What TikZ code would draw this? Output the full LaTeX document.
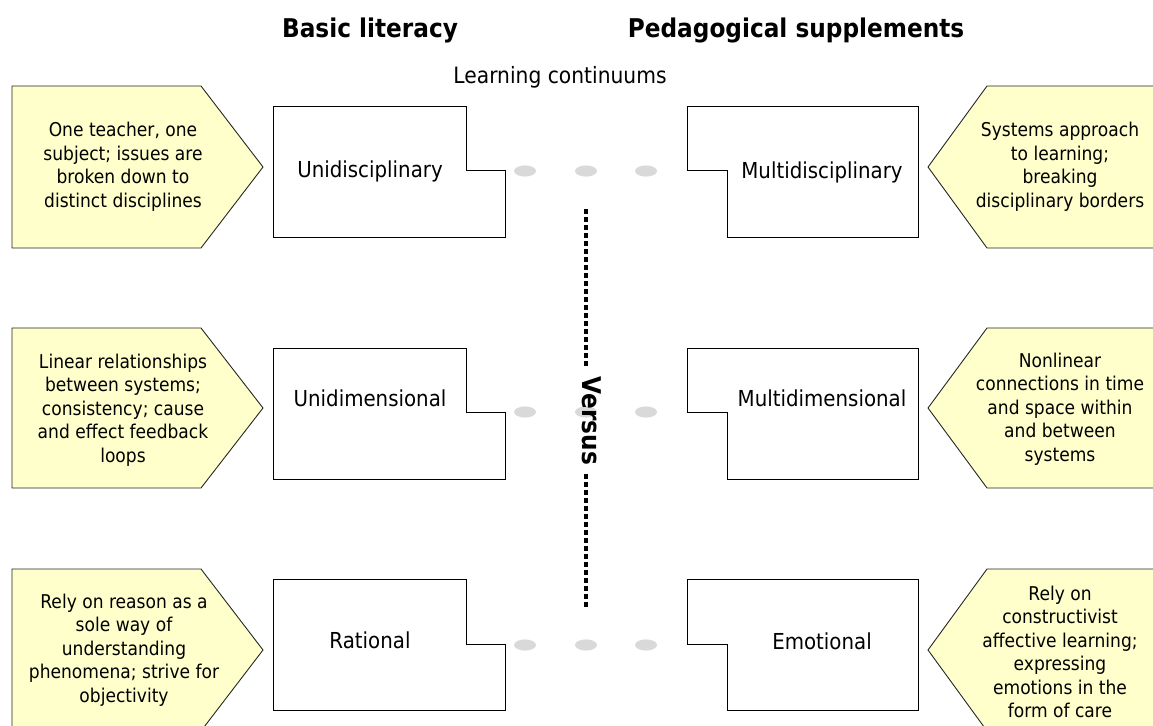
\documentclass[tikz,border=0pt]{standalone}
\usepackage{fontspec}
\setmainfont{DejaVu Sans}[FakeStretch=0.9]
\definecolor{callfill}{RGB}{255,255,204}
\definecolor{dotgray}{RGB}{217,217,217}
\begin{document}
\begin{tikzpicture}[x=1pt,y=-1pt,
  callout/.style={draw=black!85, fill=callfill, line width=0.9pt, line join=miter},
  boxshape/.style={draw=black, fill=white, line width=1pt},
  gdot/.style={fill=dotgray, draw=none},
  calltext/.style={font=\fontsize{19}{23.5}\selectfont, align=center, inner sep=0pt},
  boxtext/.style={font=\fontsize{22}{26}\selectfont, inner sep=0pt},
  header/.style={font=\bfseries\fontsize{25.8}{30}\selectfont, inner sep=0pt},
  vsline/.style={line width=4.6pt, dash pattern=on 4.6pt off 3.4pt}
]
\useasboundingbox (0,0) rectangle (1153,725);
\clip (0,0) rectangle (1153,725);

% headers
\node[header] (hbasic) at (370,30) {Basic literacy};
\node[header] (hped) at (796,30) {Pedagogical supplements};
\node[boxtext, font=\fontsize{22.5}{27}\selectfont] (hlc) at (560,77) {Learning continuums};

% left callouts
\draw[callout] (12,86) -- (201,86) -- (263,167) -- (201,248) -- (12,248) -- cycle;
\draw[callout] (12,328) -- (201,328) -- (263,408) -- (201,488) -- (12,488) -- cycle;
\draw[callout] (12,569) -- (201,569) -- (263,650) -- (201,731) -- (12,731) -- cycle;
% right callouts
\draw[callout] (1190,86) -- (987,86) -- (928,167) -- (987,248) -- (1190,248) -- cycle;
\draw[callout] (1190,328) -- (987,328) -- (928,408) -- (987,488) -- (1190,488) -- cycle;
\draw[callout] (1190,569) -- (987,569) -- (928,650) -- (987,731) -- (1190,731) -- cycle;

% left boxes
\draw[boxshape] (273,106) -- (466,106) -- (466,170) -- (505,170) -- (505,237) -- (273,237) -- cycle;
\draw[boxshape] (273,348) -- (466,348) -- (466,412) -- (505,412) -- (505,479) -- (273,479) -- cycle;
\draw[boxshape] (273,579) -- (466,579) -- (466,644) -- (505,644) -- (505,710) -- (273,710) -- cycle;
% right boxes
\draw[boxshape] (687,106) -- (918,106) -- (918,237) -- (727,237) -- (727,170) -- (687,170) -- cycle;
\draw[boxshape] (687,348) -- (918,348) -- (918,479) -- (727,479) -- (727,412) -- (687,412) -- cycle;
\draw[boxshape] (687,579) -- (918,579) -- (918,710) -- (727,710) -- (727,644) -- (687,644) -- cycle;

% gray dots
\foreach \yy in {171,412,645}{
  \foreach \xx in {525,586,646}{
    \fill[gdot] (\xx,\yy) ellipse [x radius=11, y radius=5.6];
  }
}

% dotted line and Versus
\coordinate (va) at (586,209);
\coordinate (vb) at (586,368);
\coordinate (vc) at (586,474);
\coordinate (vd) at (586,607);
\draw[vsline] (va) -- (vb);
\draw[vsline] (vc) -- (vd);
\node[header, rotate=-90] (versus) at (592,421) {Versus};

% box texts
\node[boxtext] (t1) at (370,171) {Unidisciplinary};
\node[boxtext] (t2) at (370,398) {Unidimensional};
\node[boxtext] (t3) at (370,640) {Rational};
\node[boxtext] (t4) at (822,172) {Multidisciplinary};
\node[boxtext] (t5) at (822,398) {Multidimensional};
\node[boxtext] (t6) at (822,641) {Emotional};

% callout texts
\node[calltext] (c1) at (123,167) {One teacher, one\\subject; issues are\\broken down to\\distinct disciplines};
\node[calltext] (c2) at (123,410) {Linear relationships\\between systems;\\consistency; cause\\and effect feedback\\loops};
\node[calltext] (c3) at (124,650) {Rely on reason as a\\sole way of\\understanding\\phenomena; strive for\\objectivity};
\node[calltext] (c4) at (1060,167) {Systems approach\\to learning;\\breaking\\disciplinary borders};
\node[calltext] (c5) at (1060,409) {Nonlinear\\connections in time\\and space within\\and between\\systems};
\node[calltext] (c6) at (1060,652) {Rely on\\constructivist\\affective learning;\\expressing\\emotions in the\\form of care};
\end{tikzpicture}
\end{document}
